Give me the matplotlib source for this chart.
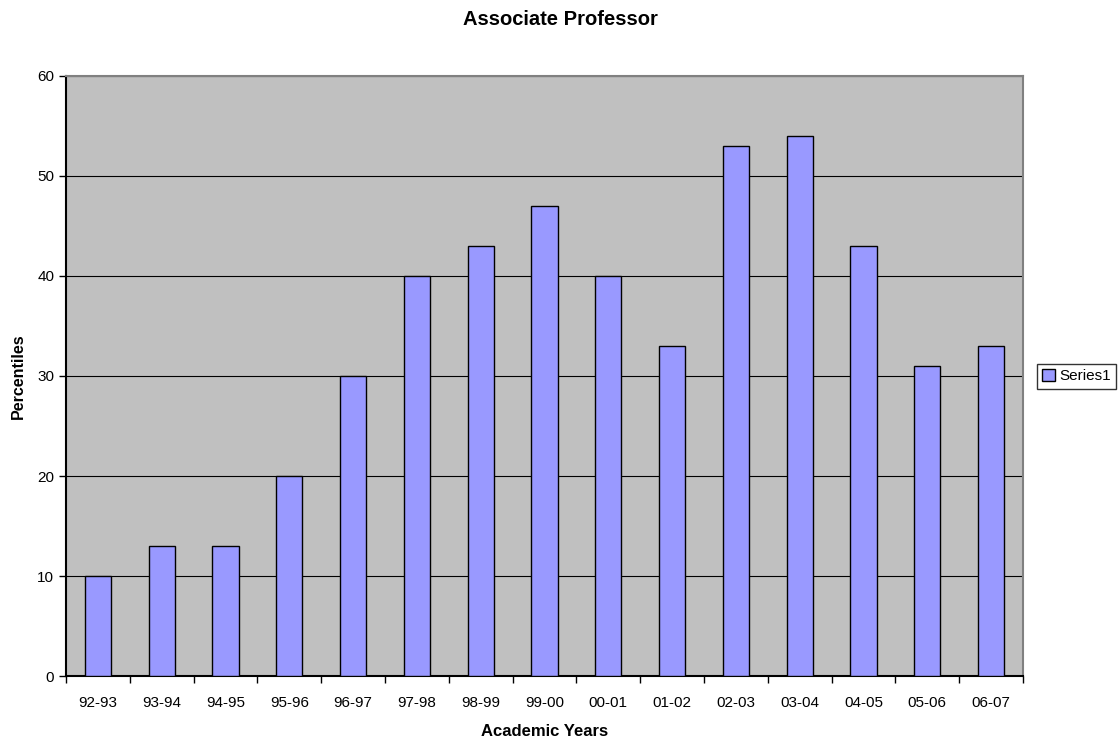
import numpy as np
import matplotlib
matplotlib.use("Agg")
import matplotlib.pyplot as plt

years = ["92-93", "93-94", "94-95", "95-96", "96-97", "97-98", "98-99", "99-00",
         "00-01", "01-02", "02-03", "03-04", "04-05", "05-06", "06-07"]
percentiles = [10, 13, 13, 20, 30, 40, 43, 47, 40, 33, 53, 54, 43, 31, 33]

plt.rcParams['font.family'] = ['Liberation Sans', 'DejaVu Sans']

fig = plt.figure(figsize=(11.2, 7.42), dpi=100)
ax = fig.add_axes([0.059, 0.0886, 0.8544, 0.8096])
ax.set_facecolor("#C0C0C0")

x = np.arange(len(years))
ax.bar(x, percentiles, width=0.41, color="#9999FF", edgecolor="black",
       linewidth=1, label="Series1", zorder=3)

ax.set_xlim(-0.5, len(years) - 0.5)
ax.set_ylim(0, 60)
ax.set_yticks(np.arange(0, 61, 10))
ax.yaxis.grid(True, color="black", linewidth=0.8, zorder=1)
ax.set_axisbelow(True)

ax.set_xticks(x)
ax.set_xticklabels(years, fontsize=11)
ax.tick_params(axis="x", length=0, pad=14)
ax.set_xticks(np.arange(-0.5, len(years)), minor=True)
ax.tick_params(axis="x", which="minor", length=5, width=1, direction="out")
ax.tick_params(axis="y", labelsize=11, length=5, width=1, direction="out")

for side in ["top", "right"]:
    ax.spines[side].set_color("#808080")
    ax.spines[side].set_linewidth(1.5)
for side in ["left", "bottom"]:
    ax.spines[side].set_color("black")
    ax.spines[side].set_linewidth(1.5)

ax.set_xlabel("Academic Years", fontsize=12, fontweight="bold", labelpad=10.5)
ax.set_ylabel("Percentiles", fontsize=11.5, fontweight="bold", labelpad=8)
fig.suptitle("Associate Professor", fontsize=14.5, fontweight="bold", y=0.987)

leg = fig.legend(loc="center left", bbox_to_anchor=(0.926, 0.493), fontsize=11,
                 frameon=True, fancybox=False, edgecolor="black",
                 handlelength=0.8, handleheight=0.8, handletextpad=0.3,
                 borderpad=0.35, borderaxespad=0)
leg.get_frame().set_linewidth(1)

fig.savefig("out.png", dpi=100)
